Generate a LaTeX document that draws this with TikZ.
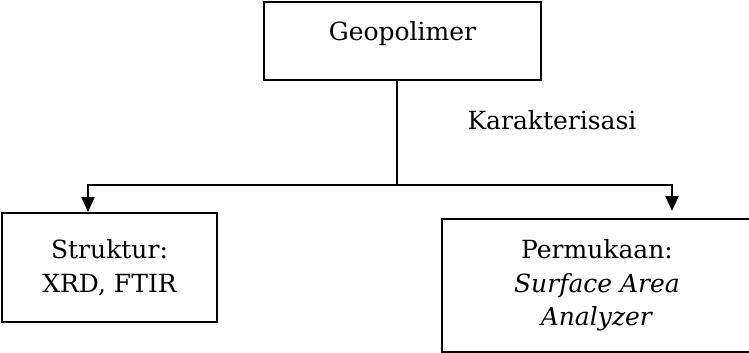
\documentclass[tikz,border=0pt]{standalone}
\usepackage{fontspec}
\setmainfont{DejaVu Serif}
\usetikzlibrary{arrows.meta, positioning}

\begin{document}
\begin{tikzpicture}[
    x=1pt, y=1pt,
    ->,
    >={Triangle[length=15pt, width=13pt]},
    on grid,
    box/.style={draw, -, line width=1.9pt, align=center, inner sep=0pt,
                font=\fontsize{25}{33.5}\selectfont},
    label text/.style={font=\fontsize{25}{33.5}\selectfont},
    wire/.style={line width=1.8pt},
]
    \useasboundingbox (0,0) rectangle (749,-353);

    \node[box, minimum width=277pt, minimum height=78pt,
          text height=19pt, text depth=20pt]       (geo)  at (402.5,-41) {Geopolimer};
    \node[box, minimum width=215pt, minimum height=109pt,
          below left =226.5pt and 293pt of geo]    (str)  {Struktur:\\XRD, FTIR};
    \node[box, minimum width=310pt, minimum height=133pt,
          below right=244.5pt and 194.5pt of geo]  (perm) {Permukaan:\\\textit{Surface Area}\\\textit{Analyzer}};
    \node[label text, below right=79.5pt and 149.5pt of geo] (kar) {Karakterisasi};

    \coordinate (hub) at ([xshift=-5.5pt, yshift=-104pt]geo.south);

    \draw[wire, -] (geo.south -| hub) -- (hub);
    \draw[wire] (hub) -| ([xshift=-21.5pt]str.north);
    \draw[wire] (hub) -| ([xshift=75pt, yshift=7pt]perm.north);
\end{tikzpicture}
\end{document}
